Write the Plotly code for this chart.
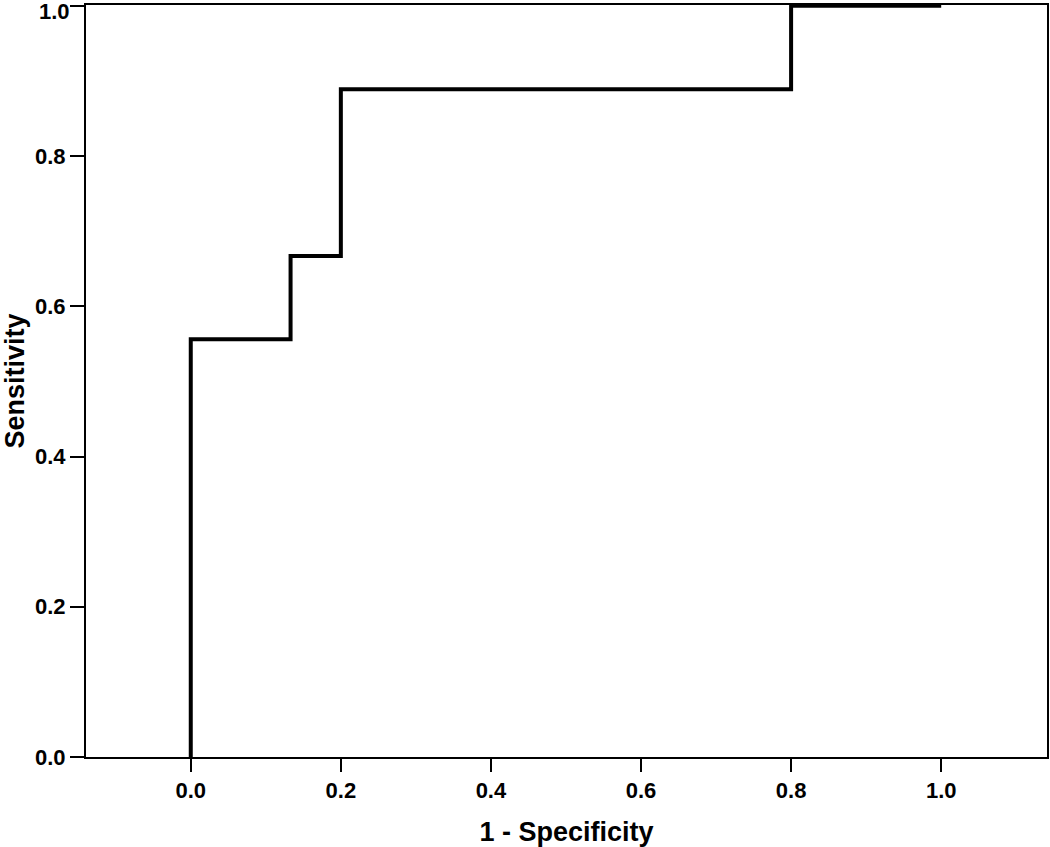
import plotly.graph_objects as go

# ROC curve step points
fpr = [0.0, 0.0, 0.133, 0.133, 0.2, 0.2, 0.8, 0.8, 1.0]
tpr = [0.0, 0.556, 0.556, 0.667, 0.667, 0.889, 0.889, 1.0, 1.0]

x_ticks = [0.0, 0.2, 0.4, 0.6, 0.8, 1.0]
y_ticks = [0.0, 0.2, 0.4, 0.6, 0.8, 1.0]

fig = go.Figure()
fig.add_trace(go.Scatter(x=fpr, y=tpr, mode="lines",
                         line=dict(color="black", width=4), showlegend=False,
                         cliponaxis=False))

# top label sits at the very edge of the page, plotly drops it -> draw it by hand,
# nudged down a little so it is not cut off
y_labels = [f"<b>{v:.1f}</b>" for v in y_ticks]
y_labels[-1] = ""
fig.add_annotation(x=0, xref="paper", y=y_ticks[-1], yref="y", text="<b>1.0</b>",
                   showarrow=False, xanchor="right", yanchor="middle",
                   xshift=-14, yshift=-6,
                   font=dict(size=22, color="black"))

fig.update_layout(
    width=1050, height=847,
    plot_bgcolor="white", paper_bgcolor="white",
    margin=dict(l=86, r=1, t=5, b=90),
    font=dict(family="Liberation Sans, Arial, sans-serif", color="black"),
)
fig.update_xaxes(
    range=[-0.1396, 1.141], tickvals=x_ticks, ticktext=[f"<b>{v:.1f}</b>" for v in x_ticks],
    showgrid=False, zeroline=False, showline=True, linecolor="black", linewidth=2,
    mirror=True, ticks="outside", ticklen=13, tickwidth=2, tickcolor="black",
    tickfont=dict(size=22),
    title=dict(text="<b>1 - Specificity</b>", font=dict(size=27), standoff=22),
)
fig.update_yaxes(
    range=[0, 1.001], tickvals=y_ticks, ticktext=y_labels,
    showgrid=False, zeroline=False, showline=True, linecolor="black", linewidth=2,
    mirror=True, ticks="outside", ticklen=14, tickwidth=2, tickcolor="black",
    tickfont=dict(size=22),
    title=dict(text="<b>Sensitivity</b>", font=dict(size=27), standoff=8),
)

fig.write_html("out.html", config={"displayModeBar": False},
               post_script="document.body.style.margin='0';")
